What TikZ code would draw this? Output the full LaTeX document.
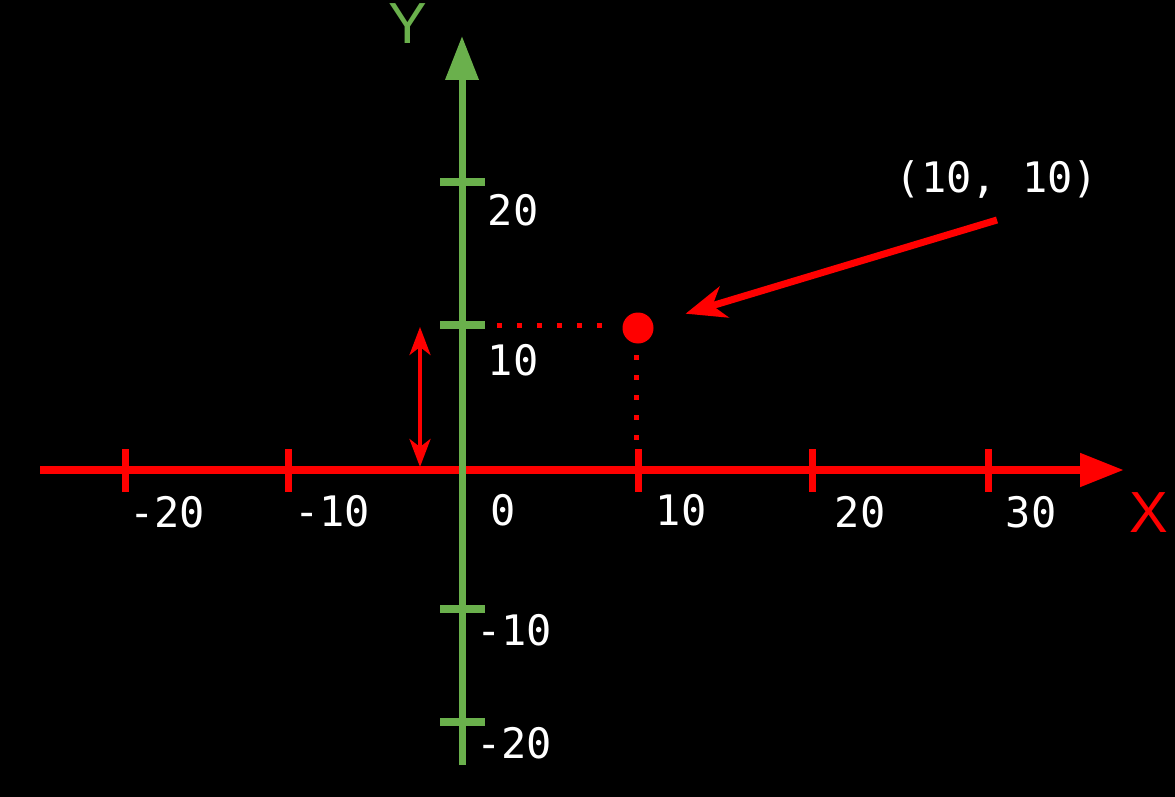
\documentclass[tikz,border=0pt]{standalone}
\usepackage{fontspec}
\setmonofont{DejaVu Sans Mono}
\newfontfamily\axfont{Liberation Sans}
\usetikzlibrary{arrows.meta}
\definecolor{axred}{RGB}{255,0,0}
\definecolor{axgreen}{RGB}{106,176,76}
\tikzset{
  lbl/.style={text=white, font=\ttfamily\fontsize{42}{42}\selectfont, inner sep=0pt, anchor=center},
  xaxis/.style={draw=axred, line width=8pt, -{Triangle[length=44pt,width=32pt]}},
  yaxis/.style={draw=axgreen, line width=7pt, -{Triangle[length=44pt,width=32pt]}},
  xtick/.style={draw=axred, line width=7pt},
  ytick/.style={draw=axgreen, line width=8pt},
  dotline/.style={draw=axred, line width=5pt, dash pattern=on 5pt off 15pt},
  ptr/.style={draw=axred, line width=7pt, -{Stealth[length=40pt,width=32pt,inset=12pt]}},
  dbl/.style={draw=axred, line width=4pt, {Stealth[length=28pt,width=21pt,inset=8pt]}-{Stealth[length=28pt,width=21pt,inset=8pt]}},
}
\begin{document}
\begin{tikzpicture}[x=1pt,y=-1pt]
\useasboundingbox (0,0) rectangle (1175,797);
\fill[black] (0,0) rectangle (1175,797);
\begin{scope}
\clip (0,0) rectangle (1175,797);
% axis end coordinates
\coordinate (xs) at (40,470);
\coordinate (xe) at (1124,470);
\coordinate (ys) at (462,765);
\coordinate (ye) at (462,36);
\draw[xaxis] (xs) -- (xe);
\draw[yaxis] (ys) -- (ye);
% x ticks
\foreach \n/\x in {a/125,b/288,c/638,d/812,e/988}{
  \coordinate (xt\n1) at (\x,449);
  \coordinate (xt\n2) at (\x,492);
  \draw[xtick] (xt\n1) -- (xt\n2);
}
% y ticks
\foreach \n/\y in {a/182,b/325,c/609,d/722}{
  \coordinate (yt\n1) at (440,\y);
  \coordinate (yt\n2) at (485,\y);
  \draw[ytick] (yt\n1) -- (yt\n2);
}
% x labels
\node[lbl] (xl1) at (167,512) {-20};
\node[lbl] (xl2) at (332,511) {-10};
\node[lbl] (xl3) at (503,510) {0};
\node[lbl] (xl4) at (681,510) {10};
\node[lbl] (xl5) at (860,512) {20};
\node[lbl] (xl6) at (1031,512) {30};
% y labels
\node[lbl] (yl1) at (513,210) {20};
\node[lbl] (yl2) at (513,360) {10};
\node[lbl] (yl3) at (514,630) {-10};
\node[lbl] (yl4) at (514,743) {-20};
% axis names
\node[text=axred, font=\axfont\fontsize{58}{58}\selectfont, inner sep=0pt, anchor=base] (xn) at (1149,532) {X};
\node[text=axgreen, font=\axfont\fontsize{58}{58}\selectfont, inner sep=0pt, anchor=base] (yn) at (408,44) {Y};
% point
\node[circle, fill=axred, minimum size=31pt, inner sep=0pt] (pt) at (638,328) {};
\coordinate (hd1) at (497,325);
\coordinate (hd2) at (602,325);
\draw[dotline] (hd1) -- (hd2);
\coordinate (vd1) at (636,355);
\coordinate (vd2) at (636,440);
\draw[dotline] (vd1) -- (vd2);
% label and pointer
\node[lbl] (coord) at (997,180) {(10, 10)};
\coordinate (ps) at (997,220);
\draw[ptr, shorten >=34pt] (ps) -- (pt);
% double arrow
\coordinate (da1) at (420,327);
\coordinate (da2) at (420,467);
\draw[dbl] (da1) -- (da2);
\end{scope}
\end{tikzpicture}
\end{document}
